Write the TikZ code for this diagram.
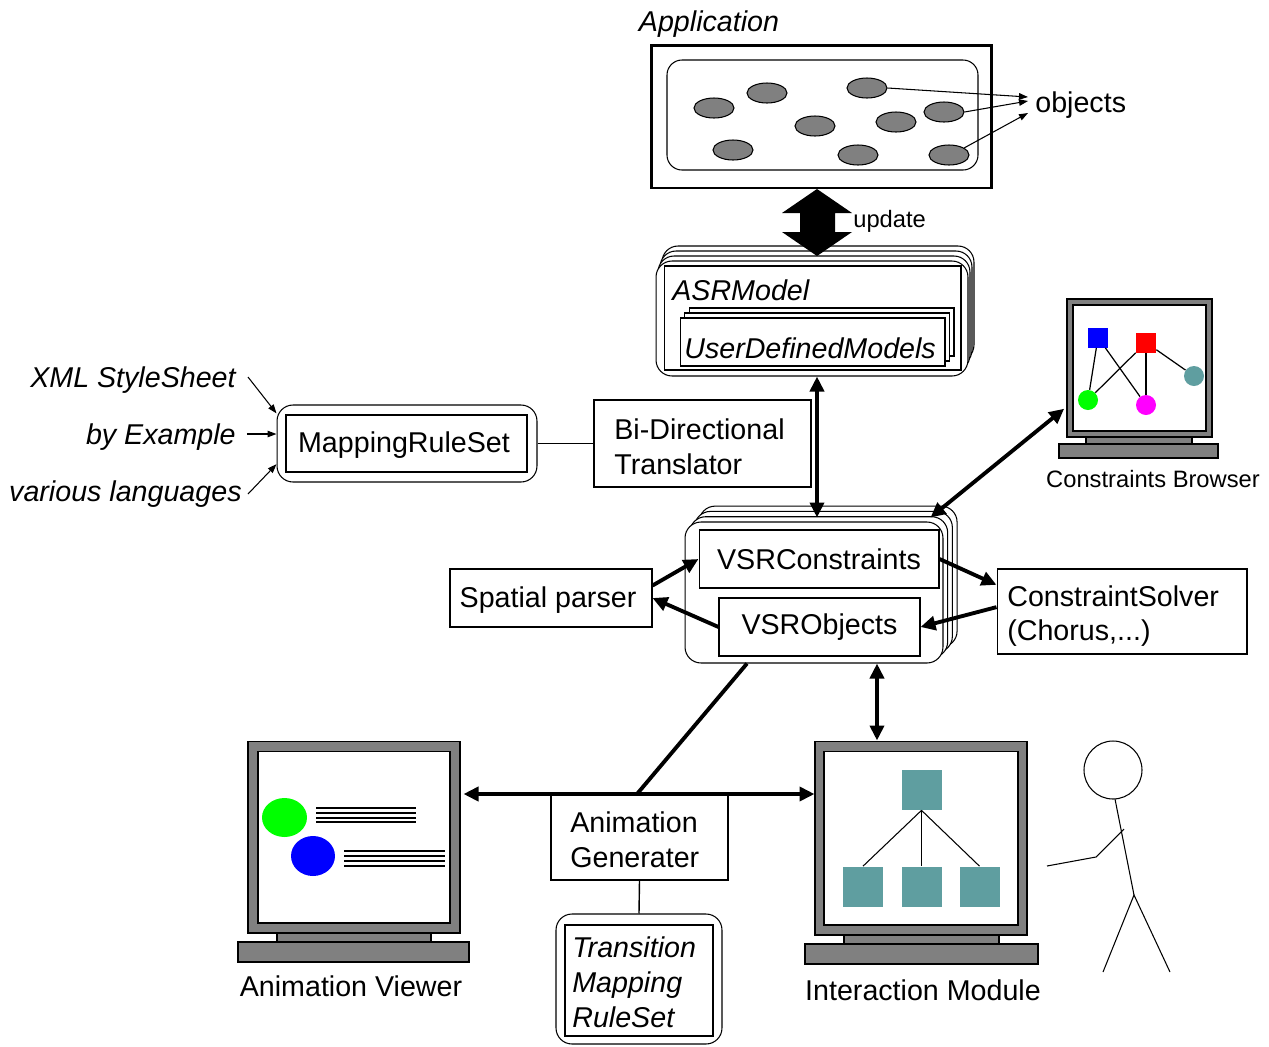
\documentclass[tikz,border=0pt]{standalone}
\usepackage{fontspec}
\setmainfont{Liberation Sans}
\usetikzlibrary{arrows.meta,shapes.geometric,calc}
\definecolor{cadet}{RGB}{95,158,160}
\definecolor{pinkdot}{RGB}{255,0,255}
\newcommand{\bigfont}{\fontsize{16.3}{19.8}\selectfont}
\newcommand{\smallfont}{\fontsize{13.5}{16}\selectfont}

\begin{document}
\begin{tikzpicture}[x=0.02cm, y=-0.02cm,
    box/.style={draw, line width=0.6pt, inner sep=0pt, fill=white},
    layer/.style={box, rounded corners=0.32cm},
    screen/.style={draw, line width=0.6pt, fill=white, inner sep=0pt},
    frame/.style={draw, line width=0.6pt, fill=black!50, inner sep=0pt},
    obj/.style={ellipse, draw, line width=0.6pt, fill=black!50, minimum width=0.8cm, minimum height=0.4cm, inner sep=0pt},
    bigarrow/.style={line width=2.2pt, {Triangle[length=0.3cm,width=0.28cm]}-{Triangle[length=0.3cm,width=0.28cm]}},
    onearrow/.style={line width=2.2pt, -{Triangle[length=0.3cm,width=0.28cm]}},
    thinarrow/.style={line width=0.6pt, -{Triangle[length=0.18cm,width=0.13cm]}},
    txt/.style={font=\bigfont, inner sep=0pt}]

  \useasboundingbox (0,0) rectangle (1269,1046);

  % Application window and its objects
  \node[txt, font=\bigfont\itshape] (applbl) at (709,24) {Application};
  \node[draw, line width=1.7pt, minimum width=6.82cm, minimum height=2.86cm] (app) at (821.5,116.5) {};
  \draw[line width=0.6pt, rounded corners=0.3cm] (667,60) rectangle (978,170);
  \foreach \n/\p in {1/{714,108}, 2/{767,93}, 3/{867,88}, 4/{815,126}, 5/{896,122},
                     6/{944,112}, 7/{733,150}, 8/{858,155}, 9/{949,155}}
    \node[obj] (o\n) at (\p) {};

  \node[txt, anchor=west] (objlbl) at (1035,105) {objects};
  \coordinate (ot1) at (1028,97);
  \coordinate (ot2) at (1028,101);
  \coordinate (ot3) at (1028,113);
  \draw[thinarrow] (o3.east) -- (ot1);
  \draw[thinarrow] (o6.east) -- (ot2);
  \draw[thinarrow] (o9.25) -- (ot3);

  % ASRModel stack
  \foreach \d in {3,2,1}
    \node[layer, minimum width=6.24cm, minimum height=2.3cm] at (812+2*\d, 318.5-5*\d) {};
  \node[layer, minimum width=6.24cm, minimum height=2.3cm] (asr) at (812,318.5) {};
  \node[box, minimum width=5.94cm, minimum height=2.08cm] (asrin) at (812.5,318) {};
  \node[txt, font=\bigfont\itshape, anchor=west] (asrlbl) at (672,290) {ASRModel};
  \foreach \d in {2,1}
    \node[box, minimum width=5.3cm, minimum height=0.96cm] at (812.5+4.5*\d, 342-5*\d) {};
  \node[box, minimum width=5.3cm, minimum height=0.96cm] (udm) at (812.5,342) {};
  \node[txt, font=\bigfont\itshape, anchor=west] (udmlbl) at (684,348) {UserDefinedModels};

  % update arrow
  \fill (817,189) -- (852,213) -- (835,213) -- (835,232) -- (852,232) -- (817,256)
        -- (782,232) -- (800,232) -- (800,213) -- (782,213) -- cycle;
  \node[txt, font=\smallfont, anchor=west] (updlbl) at (853,221) {update};

  % mapping rules and translator
  \node[layer, minimum width=5.2cm, minimum height=1.54cm] (mrs) at (407,443.5) {};
  \node[box, minimum width=4.82cm, minimum height=1.14cm] (mrsin) at (406.5,443.5) {};
  \node[txt] (mrslbl) at (404,445) {MappingRuleSet};
  \node[txt, font=\bigfont\itshape, anchor=east] (xml) at (236,380) {XML StyleSheet};
  \node[txt, font=\bigfont\itshape, anchor=east] (byex) at (236,437) {by Example};
  \node[txt, font=\bigfont\itshape, anchor=east] (langs) at (242,494) {various languages};
  \draw[thinarrow] ([xshift=0.24cm,yshift=0.06cm]xml.east) -- (mrs.167);
  \draw[thinarrow] ([xshift=0.22cm,yshift=0.06cm]byex.east) -- ([yshift=0.06cm]byex.east -| mrs.west);
  \draw[thinarrow] ([xshift=0.12cm]langs.east) -- (mrs.189);

  \node[box, minimum width=4.34cm, minimum height=1.74cm] (tr) at (702.5,443.5) {};
  \node[txt, align=left, anchor=west] (trlbl) at (614,447) {Bi-Directional\\Translator};
  \draw[line width=0.8pt] (mrs.east) -- (tr.west);

  % Constraints Browser monitor
  \node[frame, minimum width=2.9cm, minimum height=2.76cm] (cb) at (1139.5,368) {};
  \node[screen, minimum width=2.66cm, minimum height=2.52cm] (cbscr) at (cb.center) {};
  \draw[line width=0.6pt, fill=black!50] (1086,437) rectangle (1192,444);
  \draw[line width=0.6pt, fill=black!50] (1059,444) rectangle (1218,458);
  \node[fill=blue, minimum size=0.4cm, inner sep=0pt] (bsq) at (1098,337.5) {};
  \node[fill=red, minimum size=0.4cm, inner sep=0pt] (rsq) at (1146,342.5) {};
  \node[circle, fill=green, minimum size=0.4cm, inner sep=0pt] (gc) at (1088,400) {};
  \node[circle, fill=pinkdot, minimum size=0.4cm, inner sep=0pt] (mc) at (1146,405) {};
  \node[circle, fill=cadet, minimum size=0.4cm, inner sep=0pt] (tc) at (1194,376) {};
  \draw[line width=0.7pt] (bsq) -- (gc);
  \draw[line width=0.7pt] (bsq) -- (mc);
  \draw[line width=0.7pt] (rsq) -- (gc);
  \draw[line width=0.7pt] (rsq) -- (mc);
  \draw[line width=0.7pt] (rsq) -- (tc);
  \node[txt, font=\smallfont] (cblbl) at (1153,479) {Constraints Browser};

  % VSR stack
  \foreach \d in {3,2,1}
    \node[layer, minimum width=5.16cm, minimum height=2.82cm] at (814+4.7*\d, 592.5-5.3*\d) {};
  \node[layer, minimum width=5.16cm, minimum height=2.82cm] (vsr) at (814,592.5) {};
  \node[box, minimum width=4.8cm, minimum height=1.16cm, font=\bigfont] (vc) at (819,559) {VSRConstraints};
  \node[box, minimum width=4.02cm, minimum height=1.16cm, font=\bigfont] (vo) at (819.5,627) {VSRObjects};

  \coordinate (asrbot) at ($(asr.south)+(5,0)$);
  \draw[bigarrow, shorten >=0.08cm] (asrbot) -- (asrbot |- vsr.north);
  \draw[bigarrow, shorten >=0.06cm] ($(vsr.north east)+(-13,-4)$) -- (cb.208);

  % parser and solver
  \node[box, minimum width=4.04cm, minimum height=1.16cm] (sp) at (551,598) {};
  \node[txt] (splbl) at (548,600) {Spatial parser};
  \node[box, minimum width=5cm, minimum height=1.7cm] (cs) at (1122,611.5) {};
  \node[txt, align=left, anchor=west] (cslbl) at (1007,616) {ConstraintSolver\\(Chorus,...)};
  \draw[onearrow] (sp.7) -- (vc.west);
  \draw[onearrow] (vo.west) -- (sp.east);
  \draw[onearrow] (vc.east) -- (cs.168);
  \draw[onearrow] (cs.178) -- (vo.east);

  % Animation Viewer monitor
  \node[frame, minimum width=4.24cm, minimum height=3.84cm] (av) at (354,837) {};
  \node[screen, minimum width=3.84cm, minimum height=3.44cm] (avscr) at (av.center) {};
  \draw[line width=0.6pt, fill=black!50] (277,933) rectangle (431,942);
  \draw[line width=0.6pt, fill=black!50] (238,942) rectangle (469,962);
  \node[ellipse, fill=green, minimum width=0.9cm, minimum height=0.78cm, inner sep=0pt] (gball) at (284.5,817.5) {};
  \node[ellipse, fill=blue, minimum width=0.88cm, minimum height=0.8cm, inner sep=0pt] (bball) at (313,856) {};
  \foreach \y in {808,813,818,822}
    \draw[line width=0.7pt] (316,\y) -- (416,\y);
  \foreach \y in {851,856,861,866}
    \draw[line width=0.7pt] (344,\y) -- (445,\y);
  \node[txt] (avlbl) at (351,986) {Animation Viewer};

  % Interaction Module monitor
  \node[frame, minimum width=4.24cm, minimum height=3.88cm] (im) at (921,838) {};
  \node[screen, minimum width=3.88cm, minimum height=3.48cm] (imscr) at (im.center) {};
  \draw[line width=0.6pt, fill=black!50] (844,935) rectangle (999,944);
  \draw[line width=0.6pt, fill=black!50] (805,944) rectangle (1038,964);
  \node[fill=cadet, minimum size=0.8cm, inner sep=0pt] (tsq) at (921.5,790) {};
  \node[fill=cadet, minimum size=0.8cm, inner sep=0pt] (lsq1) at (863,886.5) {};
  \node[fill=cadet, minimum size=0.8cm, inner sep=0pt] (lsq2) at (921.5,886.5) {};
  \node[fill=cadet, minimum size=0.8cm, inner sep=0pt] (lsq3) at (979.5,886.5) {};
  \draw[line width=0.6pt] (tsq.south) -- (lsq1.north);
  \draw[line width=0.6pt] (tsq.south) -- (lsq2.north);
  \draw[line width=0.6pt] (tsq.south) -- (lsq3.north);
  \node[txt] (imlbl) at (923,990) {Interaction Module};

  % user
  \draw[line width=0.6pt] (1113,770) circle [radius=0.58cm];
  \draw[line width=0.6pt] (1115,799) -- (1134,895);
  \draw[line width=0.6pt] (1103,972) -- (1134,895) -- (1170,972);
  \draw[line width=0.6pt] (1124,829) -- (1096,857) -- (1047,866);

  % animation generator and its rules
  \node[box, minimum width=3.54cm, minimum height=1.7cm] (ag) at (639.5,837.5) {};
  \node[txt, align=left, anchor=west] (aglbl) at (570,840) {Animation\\Generater};
  \node[layer, minimum width=3.32cm, minimum height=2.6cm] (trm) at (639,979) {};
  \node[box, minimum width=2.96cm, minimum height=2.22cm] (trmin) at (639,980.5) {};
  \node[txt, font=\bigfont\itshape, align=left, anchor=west] (trmlbl) at (572,982.5) {Transition\\Mapping\\RuleSet};
  \draw[line width=0.8pt] (ag.south) -- (trm.north);

  \coordinate (junc) at (637,794);
  \draw[bigarrow, shorten <=0.06cm] (av.east |- junc) -- (im.west |- junc);
  \draw[line width=2.2pt] ($(vsr.south)+(-67,0)$) -- (junc);
  \coordinate (imtop) at ($(vsr.south)+(63,0)$);
  \draw[bigarrow] (imtop) -- (imtop |- im.north);
\end{tikzpicture}
\end{document}
